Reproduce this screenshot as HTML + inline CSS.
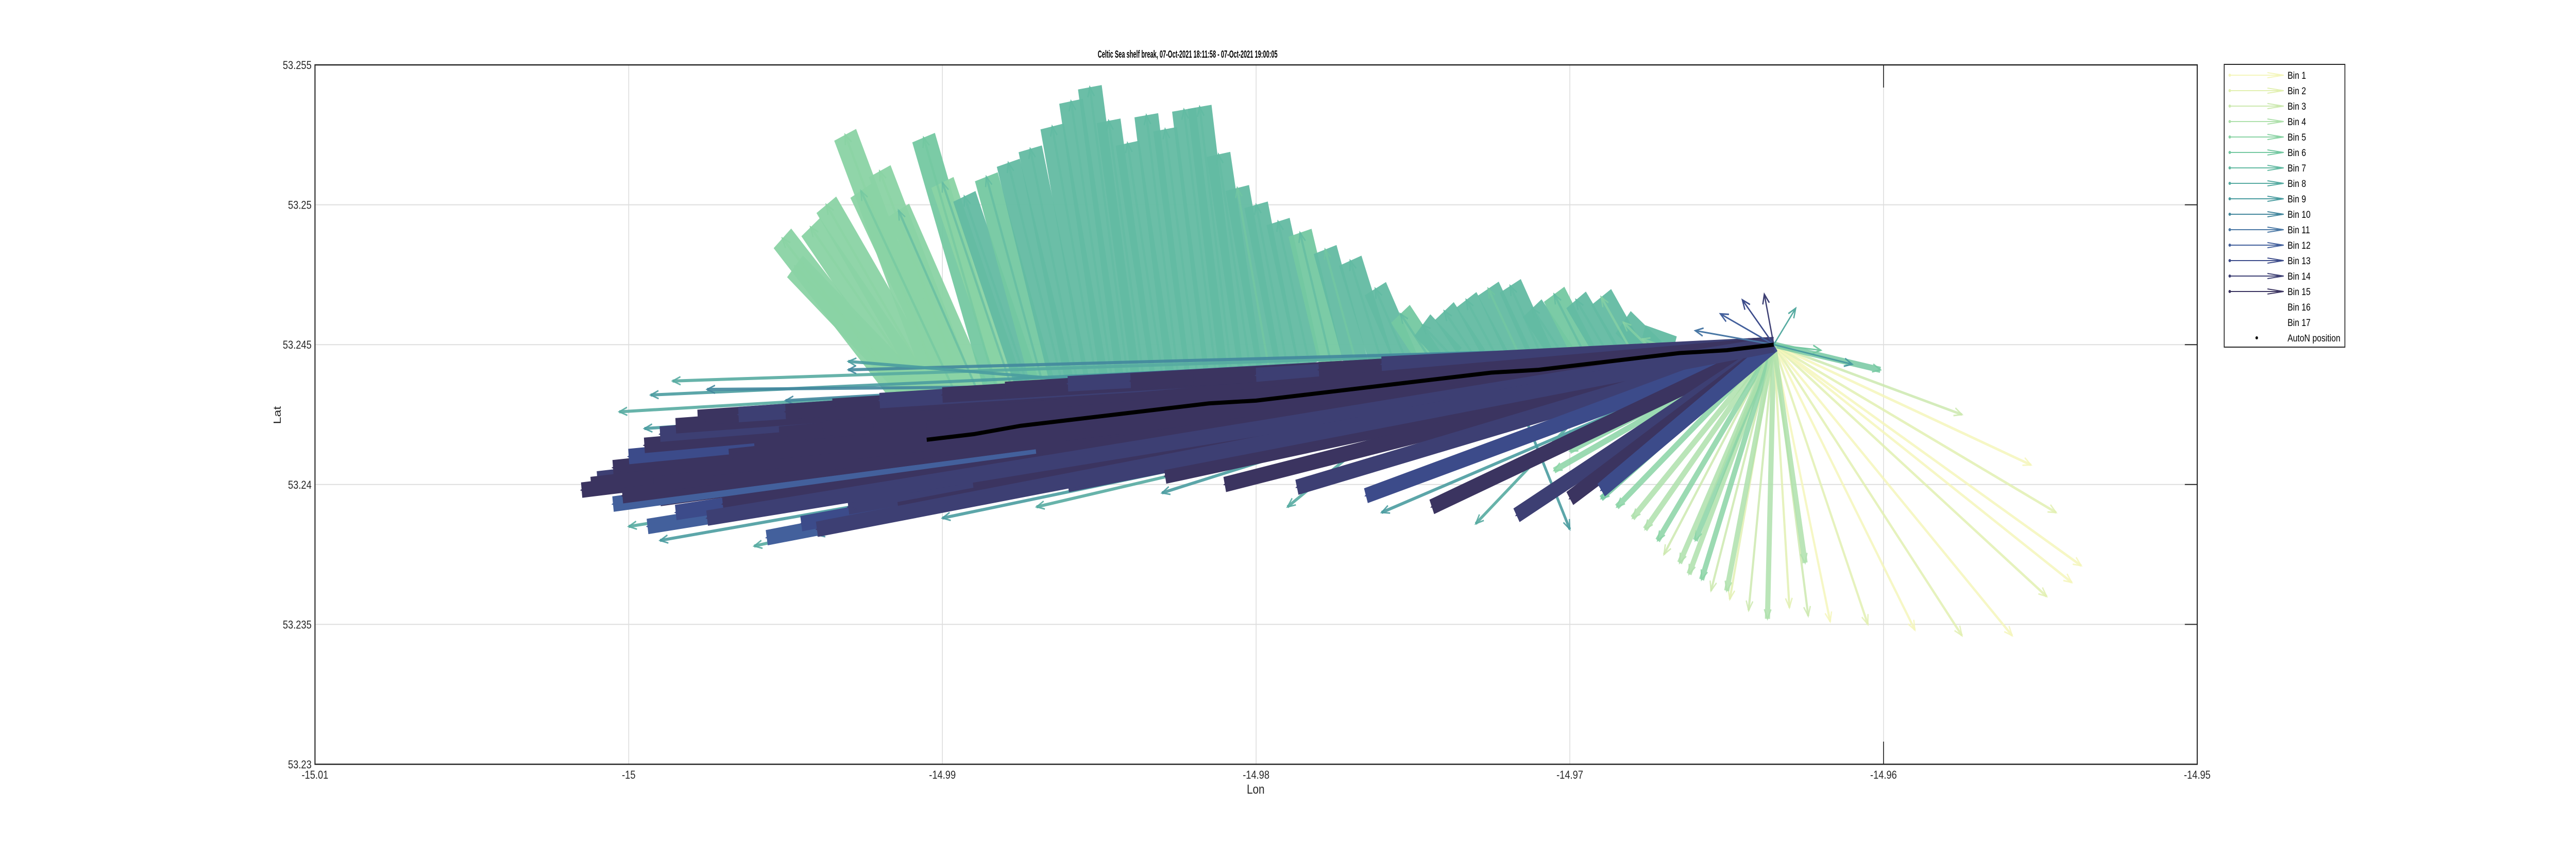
<!DOCTYPE html>
<html><head><meta charset="utf-8"><style>
html,body{margin:0;padding:0;background:#fff;overflow:hidden;width:100%;height:100%;}
svg{display:block;width:100vw;height:100vh;font-family:"Liberation Sans",Arial,sans-serif;}
</style></head><body>
<svg id="chart" viewBox="0 0 6019 1666" preserveAspectRatio="none" xmlns="http://www.w3.org/2000/svg">
<g id="grid"></g>
<g id="marks"></g>
<g id="axes"></g>
<text x="2775" y="112" text-anchor="middle" font-size="20" font-weight="bold" textLength="420" lengthAdjust="spacingAndGlyphs" fill="#000">Celtic Sea shelf break, 07-Oct-2021 18:11:58 - 07-Oct-2021 19:00:05</text>
<text x="2934" y="1541" text-anchor="middle" font-size="25" fill="#262626">Lon</text>
<text x="0" y="0" transform="translate(656,806) rotate(-90)" text-anchor="middle" font-size="25" fill="#262626">Lat</text>
<g id="legend"></g>
</svg>
<script>
const xTicks=[-15.01,-15,-14.99,-14.98,-14.97,-14.96,-14.95];
const xTickLabels=["-15.01","-15","-14.99","-14.98","-14.97","-14.96","-14.95"];
const yTicks=[53.23,53.235,53.24,53.245,53.25,53.255];
const yTickLabels=["53.23","53.235","53.24","53.245","53.25","53.255"];
const binNames=["Bin 1","Bin 2","Bin 3","Bin 4","Bin 5","Bin 6","Bin 7","Bin 8","Bin 9","Bin 10","Bin 11","Bin 12","Bin 13","Bin 14","Bin 15","Bin 16","Bin 17"];
const binColors=["#f4f6bb","#e2f0b1","#cce9af","#aee0ab","#8ad3a4","#74c8a1","#63baa2","#56aba1","#4a9ca0","#43879d","#4a78a5","#43609c","#3c4b8a","#3d3f73","#3b3460","#3b3460","#3b3460"];
// AutoN track
const trackLon=[-14.9905,-14.9890,-14.9875,-14.9860,-14.9845,-14.9830,-14.9815,-14.9800,-14.9785,-14.9770,-14.9755,-14.9740,-14.9725,-14.9710,-14.9695,-14.9680,-14.9665,-14.9650,-14.9635];
const trackLat=[53.2416,53.2418,53.2421,53.2423,53.2425,53.2427,53.2429,53.2430,53.2432,53.2434,53.2436,53.2438,53.2440,53.2441,53.2443,53.2445,53.2447,53.2448,53.2450];
// Green fan (bins 4-7)
const gTipLon=[-14.9951,-14.9947,-14.9942,-14.9937,-14.9931,-14.9926,-14.9920,-14.9914,-14.9906,-14.9900,-14.9893,-14.9886,-14.9879,-14.9872,-14.9865,-14.9859,-14.9853,-14.9847,-14.9841,-14.9835,-14.9829,-14.9823,-14.9818,-14.9812,-14.9806,-14.9800,-14.9793,-14.9786,-14.9778,-14.9770,-14.9762,-14.9754,-14.9747,-14.9740,-14.9733,-14.9726,-14.9719,-14.9712,-14.9705,-14.9698,-14.9690,-14.9683,-14.9677];
const gTipLat=[53.2488,53.2478,53.2492,53.2500,53.2525,53.2505,53.2512,53.2498,53.2524,53.2508,53.2503,53.2510,53.2515,53.2520,53.2528,53.2537,53.2542,53.2530,53.2522,53.2532,53.2527,53.2534,53.2535,53.2518,53.2506,53.2500,53.2494,53.2490,53.2484,53.2480,53.2470,53.2461,53.2457,53.2462,53.2466,53.2470,53.2471,53.2463,53.2468,53.2466,53.2467,53.2458,53.2452];
const gOrgLon=[-14.9911,-14.9907,-14.9905,-14.9902,-14.9900,-14.9896,-14.9893,-14.9889,-14.9883,-14.9878,-14.9873,-14.9868,-14.9862,-14.9857,-14.9851,-14.9846,-14.9841,-14.9836,-14.9830,-14.9825,-14.9819,-14.9813,-14.9808,-14.9802,-14.9796,-14.9790,-14.9783,-14.9776,-14.9768,-14.9760,-14.9752,-14.9744,-14.9737,-14.9730,-14.9723,-14.9716,-14.9709,-14.9702,-14.9695,-14.9688,-14.9680,-14.9673,-14.9667];
const gOrgLat=[53.2430,53.2431,53.2431,53.2432,53.2432,53.2433,53.2433,53.2434,53.2435,53.2435,53.2436,53.2436,53.2437,53.2437,53.2438,53.2438,53.2439,53.2439,53.2440,53.2440,53.2441,53.2441,53.2441,53.2442,53.2442,53.2442,53.2443,53.2443,53.2443,53.2444,53.2444,53.2444,53.2445,53.2445,53.2445,53.2446,53.2446,53.2446,53.2446,53.2447,53.2447,53.2447,53.2448];
const gBin=[5,5,5,5,5,5,5,5,6,5,7,6,7,7,7,7,7,7,7,7,7,7,7,7,7,7,7,6,7,7,7,6,7,7,7,7,7,7,6,7,7,7,7];
// Yellow / light green fan from end point (bins 1-6)
const yTipLon=[-14.9700,-14.9694,-14.9685,-14.9676,-14.9670,-14.9662,-14.9655,-14.9649,-14.9643,-14.9637,-14.9630,-14.9624,-14.9617,-14.9605,-14.9590,-14.9575,-14.9559,-14.9548,-14.9540,-14.9537,-14.9545,-14.9553,-14.9575,-14.9601,-14.9710,-14.9690,-14.9660,-14.9625,-14.9705,-14.9695,-14.9680,-14.9672,-14.9665,-14.9658,-14.9650];
const yTipLat=[53.2412,53.2401,53.2392,53.2384,53.2375,53.2368,53.2362,53.2359,53.2355,53.2352,53.2356,53.2353,53.2351,53.2350,53.2348,53.2346,53.2346,53.2360,53.2365,53.2371,53.2390,53.2407,53.2425,53.2441,53.2420,53.2395,53.2380,53.2372,53.2405,53.2398,53.2388,53.2380,53.2372,53.2366,53.2362];
const yBin=[5,4,5,4,3,4,3,2,3,4,2,3,1,2,1,2,1,2,1,1,2,1,3,6,5,6,5,4,5,5,4,5,4,5,4];
// Teal fringe (bins 8-10)
const tOrgLon=[-14.9635,-14.9635,-14.9635,-14.9700,-14.9760,-14.9635,-14.9635,-14.9635,-14.9700,-14.9760,-14.9635,-14.9660,-14.9700,-14.9740,-14.9635,-14.9680,-14.9635,-14.9720,-14.9635,-14.9800];
const tOrgLat=[53.2450,53.2450,53.2450,53.2443,53.2436,53.2450,53.2450,53.2450,53.2443,53.2436,53.2450,53.2447,53.2443,53.2438,53.2450,53.2445,53.2450,53.2440,53.2450,53.2432];
const tTipLon=[-14.9986,-14.9993,-15.0003,-14.9995,-14.9975,-15.0012,-15.0000,-14.9990,-14.9960,-14.9940,-14.9900,-14.9870,-14.9830,-14.9790,-14.9760,-14.9730,-14.9930,-14.9700,-14.9950,-14.9930];
const tTipLat=[53.2437,53.2432,53.2426,53.2420,53.2434,53.2399,53.2385,53.2380,53.2378,53.2382,53.2388,53.2392,53.2397,53.2392,53.2390,53.2386,53.2441,53.2384,53.2430,53.2444];
const tBin=[8,9,8,9,10,9,8,9,8,10,9,8,9,8,9,8,10,9,10,9];
// Dark mass (bins 11-15), all from the end point
const dOrgLon=-14.9635, dOrgLat=53.2450;
const dTipLon=[-15.0015,-15.0010,-15.0005,-15.0000,-14.9995,-14.9990,-14.9985,-14.9978,-14.9965,-14.9950,-14.9935,-14.9920,-14.9900,-14.9880,-14.9860,-14.9840,-14.9820,-14.9800,-14.9780,-14.9994,-14.9985,-14.9970,-14.9956,-14.9945,-14.9930,-14.9914,-14.9890,-14.9860,-14.9829,-14.9810,-14.9787,-14.9765,-14.9744,-14.9717,-14.9700,-14.9690,-14.9990,-15.0005,-14.9975,-14.9960,-14.9940,-14.9920,-14.9960,-14.9760,-15.0012,-15.0002,-14.9992,-14.9980,-14.9968,-14.9952,-14.9938,-14.9922,-14.9905,-14.9885,-14.9870,-14.9845,-14.9975,-14.9940];
const dTipLat=[53.2398,53.2402,53.2406,53.2410,53.2414,53.2418,53.2421,53.2424,53.2425,53.2426,53.2428,53.2430,53.2432,53.2434,53.2436,53.2437,53.2438,53.2439,53.2441,53.2385,53.2390,53.2393,53.2381,53.2386,53.2392,53.2391,53.2398,53.2400,53.2403,53.2400,53.2399,53.2396,53.2392,53.2389,53.2395,53.2398,53.2395,53.2393,53.2400,53.2405,53.2410,53.2415,53.2415,53.2443,53.2400,53.2396,53.2400,53.2405,53.2410,53.2418,53.2420,53.2422,53.2420,53.2415,53.2410,53.2405,53.2388,53.2384];
const dBin=[15,14,15,13,15,14,15,15,14,15,15,14,15,15,14,15,15,14,15,12,13,15,12,13,14,15,15,14,15,15,14,13,15,14,15,13,15,12,15,15,14,15,15,14,15,15,15,15,15,15,15,15,15,15,15,15,14,14];
// Short arrows near end point
const sTipLon=[-14.9645,-14.9652,-14.9638,-14.9628,-14.9620,-14.9610,-14.9660];
const sTipLat=[53.2466,53.2461,53.2468,53.2463,53.2448,53.2443,53.2455];
const sBin=[13,12,14,8,6,9,11];

const X0=736,X1=5134,Y0=1484,Y1=126;
const xS=v=>X0+(v+15.01)/0.06*(X1-X0);
const yS=v=>Y0-(v-53.23)/0.025*(Y0-Y1);
const NS="http://www.w3.org/2000/svg";
function mk(tag,attrs,parent){const e=document.createElementNS(NS,tag);for(const k in attrs)e.setAttribute(k,attrs[k]);parent.appendChild(e);return e;}
const grid=document.getElementById('grid'),axes=document.getElementById('axes'),marks=document.getElementById('marks'),legend=document.getElementById('legend');
xTicks.forEach((t,i)=>{
  const l=mk('line',{x1:xS(t),x2:xS(t),y1:Y1,y2:Y0,stroke:'#dedede','stroke-width':2},grid);
  
  
  const tx=mk('text',{x:xS(t),y:Y0+28,'text-anchor':'middle','font-size':22,fill:'#262626'},axes);
  tx.textContent=xTickLabels[i];
  
  
});
yTicks.forEach((t,i)=>{
  const l=mk('line',{x1:X0,x2:X1,y1:yS(t),y2:yS(t),stroke:'#dedede','stroke-width':2},grid);
  
  
  const tk=mk('line',{x1:X1-29,x2:X1,y1:yS(t),y2:yS(t),stroke:'#262626','stroke-width':2},axes);
  
  
  const tx=mk('text',{x:X0-8,y:yS(t)+8,'text-anchor':'end','font-size':22,fill:'#262626'},axes);
  tx.textContent=yTickLabels[i];
  
  
});
[[Y1,Y1+44],[Y0-44,Y0]].forEach(p=>{
  const tk=mk('line',{x1:xS(-14.96),x2:xS(-14.96),y1:p[0],y2:p[1],stroke:'#262626','stroke-width':2},axes);
  
  
});
const box=mk('rect',{x:X0,y:Y1,width:X1-X0,height:Y0-Y1,fill:'none',stroke:'#262626','stroke-width':2.5},axes);



function arrow(ox,oy,tx,ty,bin,w,op,name,hw){
  const g=mk('g',{stroke:binColors[bin-1],'stroke-width':w,'stroke-opacity':op,fill:'none'},marks);
  
  
  const x1=xS(ox),y1=yS(oy),x2=xS(tx),y2=yS(ty);
  mk('line',{x1:x1,y1:y1,x2:x2,y2:y2},g);
  const a=Math.atan2(y2-y1,x2-x1),h=20;
  mk('path',{d:`M${x2-h*Math.cos(a-0.4)},${y2-h*Math.sin(a-0.4)} L${x2},${y2} L${x2-h*Math.cos(a+0.4)},${y2-h*Math.sin(a+0.4)}`,'stroke-width':hw||3},g);
}
yTipLon.forEach((v,i)=>arrow(-14.9635,53.2450,v,yTipLat[i],yBin[i],yBin[i]<=3?5:12,0.85,'light-bin-arrow'));
gTipLon.forEach((v,i)=>arrow(gOrgLon[i],gOrgLat[i],v,gTipLat[i],gBin[i],56,0.95,'green-bin-arrow'));
gTipLon.forEach((v,i)=>arrow(gOrgLon[i],gOrgLat[i],v,gTipLat[i],gBin[(i+3)%gBin.length],5,0.7,'green-bin-arrow-detail'));
tTipLon.forEach((v,i)=>arrow(tOrgLon[i],tOrgLat[i],v,tTipLat[i],tBin[i],6,0.9,'teal-bin-arrow'));
dTipLon.forEach((v,i)=>arrow(dOrgLon,dOrgLat,v,dTipLat[i],dBin[i],30,1,'dark-bin-arrow'));
sTipLon.forEach((v,i)=>arrow(dOrgLon,dOrgLat,v,sTipLat[i],sBin[i],3,1,'short-bin-arrow'));
const tp=mk('polyline',{points:trackLon.map((v,i)=>xS(v)+','+yS(trackLat[i])).join(' '),fill:'none',stroke:'#000','stroke-width':8},marks);



// legend
const lb=mk('rect',{x:5197,y:125,width:282,height:549,fill:'#fff',stroke:'#262626','stroke-width':2},legend);


binNames.forEach((n,i)=>{
  const y=146+i*30;
  if(i<15){
    const g=mk('g',{stroke:binColors[i],'stroke-width':2,fill:'none'},legend);
    
    
    mk('line',{x1:5210,y1:y,x2:5336,y2:y},g);
    mk('path',{d:`M5298,${y-5} L5336,${y} L5298,${y+5}`},g);
    mk('circle',{cx:5210,cy:y,r:2,fill:binColors[i]},g);
  }
  const t=mk('text',{x:5345,y:y+7,'font-size':19,fill:'#000'},legend);
  t.textContent=n;
  
  
});
const dot=mk('circle',{cx:5273,cy:656,r:3,fill:'#000'},legend);


const at=mk('text',{x:5345,y:663,'font-size':19,fill:'#000'},legend);
at.textContent='AutoN position';


</script>
</body></html>
